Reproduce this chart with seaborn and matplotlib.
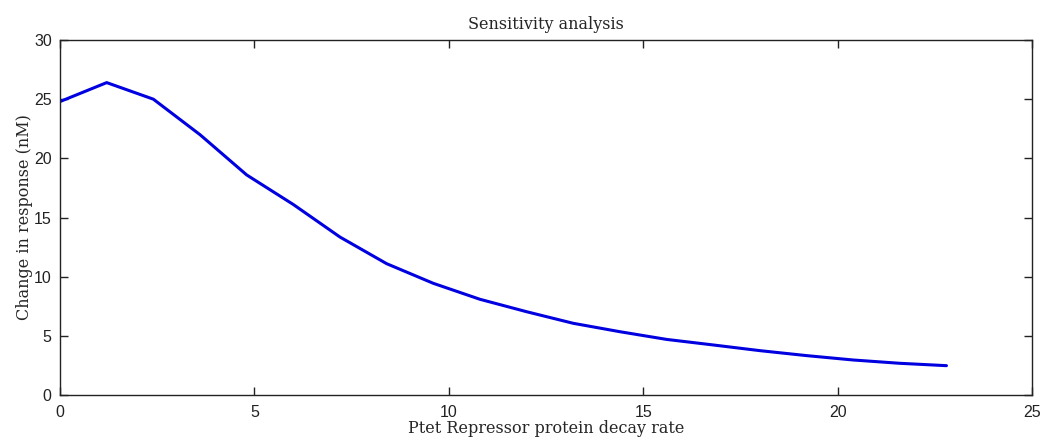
import matplotlib
matplotlib.use("Agg")
import matplotlib.pyplot as plt
import seaborn as sns
import pandas as pd

# Decay rate sweep and the resulting change in response
decay_rate = [0.0, 1.2, 2.4, 3.6, 4.8, 6.0, 7.2, 8.4, 9.6, 10.8,
              12.0, 13.2, 14.4, 15.6, 16.8, 18.0, 19.2, 20.4, 21.6, 22.8]
response_change = [24.8, 26.4, 25.0, 22.0, 18.6, 16.1, 13.35, 11.1, 9.44, 8.09,
                   7.04, 6.06, 5.35, 4.70, 4.23, 3.75, 3.33, 2.96, 2.68, 2.48]
x_ticks = [0, 5, 10, 15, 20, 25]
y_ticks = [0, 5, 10, 15, 20, 25, 30]

df = pd.DataFrame({"rate": decay_rate, "change": response_change})

sns.set_style("white")
fig = plt.figure(figsize=(10.46, 4.47), dpi=100)
ax = fig.add_axes([0.0574, 0.1163, 0.9292, 0.7942])

sns.lineplot(data=df, x="rate", y="change", ax=ax, color="#0000e0",
             linewidth=2.2, estimator=None)

ax.set_xlim(0, 25)
ax.set_ylim(0, 30)
ax.set_xticks(x_ticks)
ax.set_yticks(y_ticks)
ax.set_xticklabels([str(t) for t in x_ticks], family="Liberation Sans", fontsize=11.5)
ax.set_yticklabels([str(t) for t in y_ticks], family="Liberation Sans", fontsize=11.5)
ax.tick_params(direction="in", length=6, width=1, top=True, right=True,
               bottom=True, left=True, colors="#222222")
ax.tick_params(axis="x", pad=7)
ax.tick_params(axis="y", pad=6)
for s in ax.spines.values():
    s.set_visible(True)
    s.set_color("#222222")
    s.set_linewidth(1.0)

ax.set_xlabel("Ptet Repressor protein decay rate", family="DejaVu Serif",
              fontsize=11.5, labelpad=0)
ax.set_ylabel("Change in response (nM)", family="DejaVu Serif",
              fontsize=11.5, labelpad=1)
ax.set_title("Sensitivity analysis", family="DejaVu Serif", fontsize=11.5, pad=8)

fig.savefig("out.png", dpi=100, facecolor="white")
